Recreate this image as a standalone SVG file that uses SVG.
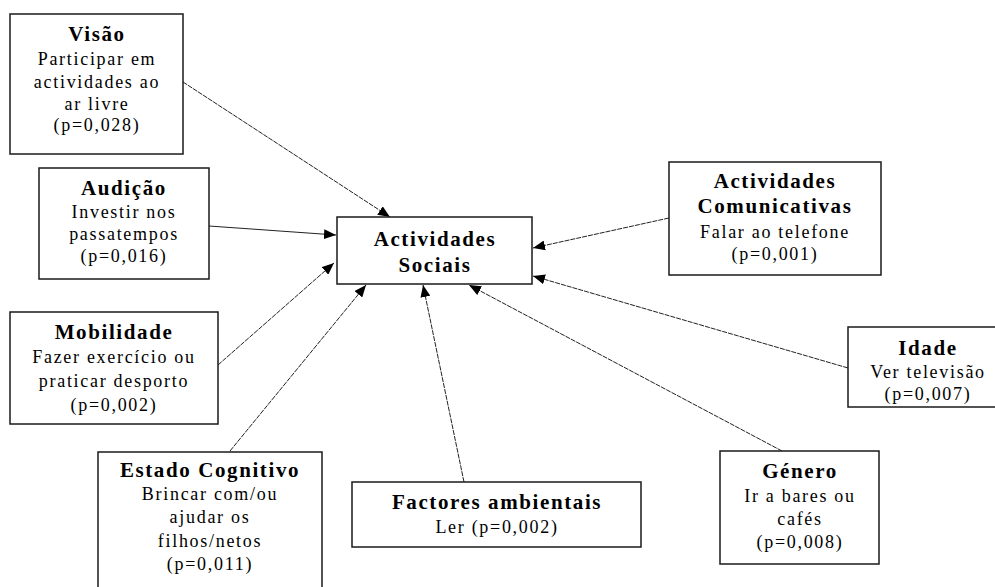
<svg xmlns="http://www.w3.org/2000/svg" width="995" height="587" viewBox="0 0 995 587">
<style>
.box{fill:#fff;stroke:#1a1a1a;stroke-width:1.5}
.t{font-family:"Liberation Serif","Times New Roman",serif;font-weight:bold;font-size:21px;text-anchor:middle;fill:#000;letter-spacing:1.6px}
.b{font-family:"Liberation Serif","Times New Roman",serif;font-size:18px;text-anchor:middle;fill:#000;letter-spacing:1.7px}
.c{fill:none;stroke:#222;stroke-width:1;stroke-dasharray:5 1}
</style>
<defs>
<marker id="ah" markerUnits="userSpaceOnUse" markerWidth="12" markerHeight="10" refX="12" refY="5" orient="auto">
<path d="M0,0 L12,5 L0,10 z" fill="#000"/>
</marker>
</defs>
<rect width="995" height="587" fill="#fff"/>
<g id="connectors">
<line class="c" x1="183" y1="82" x2="390" y2="217" marker-end="url(#ah)"/>
<line class="c" x1="209" y1="226" x2="336" y2="235" marker-end="url(#ah)" style="stroke-dasharray:none"/>
<line class="c" x1="218" y1="365" x2="334" y2="263" marker-end="url(#ah)"/>
<line class="c" x1="230" y1="451" x2="366" y2="285" marker-end="url(#ah)"/>
<line class="c" x1="464" y1="482" x2="423" y2="285" marker-end="url(#ah)"/>
<line class="c" x1="782" y1="451" x2="469" y2="285" marker-end="url(#ah)"/>
<line class="c" x1="848" y1="368" x2="533" y2="276" marker-end="url(#ah)"/>
<line class="c" x1="669" y1="218" x2="533" y2="248" marker-end="url(#ah)"/>
</g>
<g id="central">
<rect class="box" x="337" y="217" width="195" height="67"/>
<text class="t" x="435" y="246">Actividades</text>
<text class="t" x="435" y="272">Sociais</text>
</g>
<g id="visao">
<rect class="box" x="10" y="14" width="173" height="140"/>
<text class="t" x="97" y="41">Visão</text>
<text class="b" x="97" y="65">Participar em</text>
<text class="b" x="97" y="88">actividades ao</text>
<text class="b" x="97" y="110">ar livre</text>
<text class="b" x="97" y="131">(p=0,028)</text>
</g>
<g id="audicao">
<rect class="box" x="39" y="168" width="170" height="111"/>
<text class="t" x="124" y="195">Audição</text>
<text class="b" x="124" y="218">Investir nos</text>
<text class="b" x="124" y="240">passatempos</text>
<text class="b" x="124" y="262">(p=0,016)</text>
</g>
<g id="mobilidade">
<rect class="box" x="10" y="312" width="208" height="112"/>
<text class="t" x="114" y="339">Mobilidade</text>
<text class="b" x="114" y="363">Fazer exercício ou</text>
<text class="b" x="114" y="387">praticar desporto</text>
<text class="b" x="114" y="411">(p=0,002)</text>
</g>
<g id="estado">
<rect class="box" x="98" y="452" width="224" height="150"/>
<text class="t" x="210" y="477">Estado Cognitivo</text>
<text class="b" x="210" y="500">Brincar com/ou</text>
<text class="b" x="210" y="523">ajudar os</text>
<text class="b" x="210" y="547">filhos/netos</text>
<text class="b" x="210" y="570">(p=0,011)</text>
</g>
<g id="factores">
<rect class="box" x="352" y="482" width="289" height="65"/>
<text class="t" x="497" y="509">Factores ambientais</text>
<text class="b" x="497" y="533">Ler (p=0,002)</text>
</g>
<g id="genero">
<rect class="box" x="720" y="451" width="159" height="113"/>
<text class="t" x="800" y="478">Género</text>
<text class="b" x="800" y="502">Ir a bares ou</text>
<text class="b" x="800" y="525">cafés</text>
<text class="b" x="800" y="548">(p=0,008)</text>
</g>
<g id="idade">
<rect class="box" x="848" y="327" width="160" height="80"/>
<text class="t" x="928" y="355">Idade</text>
<text class="b" x="928" y="378">Ver televisão</text>
<text class="b" x="928" y="400">(p=0,007)</text>
</g>
<g id="comunicativas">
<rect class="box" x="669" y="162" width="212" height="113"/>
<text class="t" x="775" y="188">Actividades</text>
<text class="t" x="775" y="213">Comunicativas</text>
<text class="b" x="775" y="238">Falar ao telefone</text>
<text class="b" x="775" y="260">(p=0,001)</text>
</g>
</svg>
